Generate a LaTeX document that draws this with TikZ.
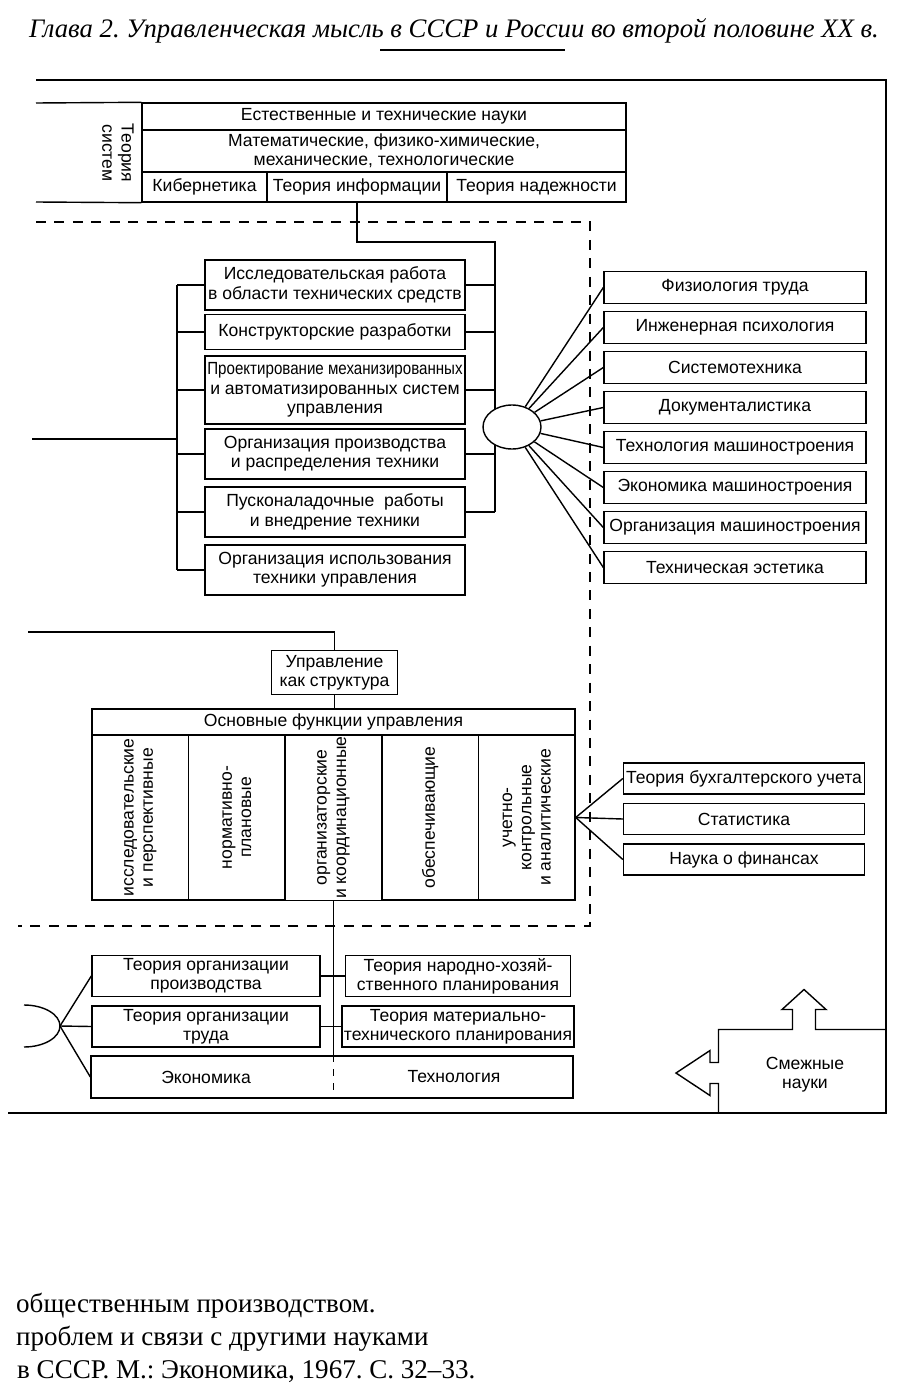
\documentclass[tikz,border=0pt]{standalone}
\usepackage{fontspec}
\setmainfont{Liberation Serif}
\setsansfont{Liberation Sans}
\usetikzlibrary{shapes.geometric}
\frenchspacing

\begin{document}
\begin{tikzpicture}[x=0.02cm, y=-0.02cm,
    box/.style={draw, line width=0.8pt, font=\sffamily\fontsize{10}{11}\selectfont, align=center, inner sep=1pt},
    rbox/.style={box, minimum width=5.24cm, minimum height=0.64cm},
    mbox/.style={box, minimum width=5.2cm},
    lbox/.style={box, minimum width=4.56cm, minimum height=0.82cm},
    pbox/.style={box, minimum width=4.5cm, minimum height=0.82cm},
    fcol/.style={box, rotate=90, minimum width=3.3cm, minimum height=1.932cm},
    dline/.style={line width=1.2pt, dash pattern=on 5.7pt off 4.8pt},
    link/.style={line width=0.8pt},
    page/.style={anchor=base west, font=\fontsize{15.4}{18}\selectfont}]

    \useasboundingbox (0,0) rectangle (912,1392);

    % Заголовок страницы
    \node[font=\itshape\fontsize{15.2}{18}\selectfont] (title) at (454,31)
        {Глава 2. Управленческая мысль в СССР и России во второй половине XX в.};
    \draw[link] (380,50) -- (565,50);

    % Рамка
    \draw[line width=1.4pt] (36,80) -- (886,80) -- (886,1113) -- (8,1113);

    % Верхний блок
    \node[box, minimum width=9.68cm, minimum height=0.54cm] (nat) at (384,116.5) {Естественные и технические науки};
    \node[box, minimum width=9.68cm, minimum height=0.84cm] (math) at (384,151)
        {Математические, физико-химические,\\механические, технологические};
    \node[box, minimum width=2.5cm, minimum height=0.6cm] (kib) at (204.5,187) {Кибернетика};
    \node[box, minimum width=3.6cm, minimum height=0.6cm] (inf) at (357,187) {Теория информации};
    \node[box, minimum width=3.58cm, minimum height=0.6cm] (rel) at (536.5,187) {Теория надежности};
    \node[font=\sffamily\fontsize{10}{11}\selectfont, align=center, rotate=-90] (sys) at (118,153) {Теория\\систем};
    \coordinate (ltop) at (36,103);
    \coordinate (lbot) at (36,202);
    \draw[link] (ltop) -- (nat.north west);
    \draw[link] (lbot) -- (kib.south west);

    % Граница (пунктир)
    \draw[dline] (36,222) -- (590,222) -- (590,926) -- (18,926);

    % Технические средства
    \node[mbox, minimum height=1.0cm] (m1) at (335,285) {Исследовательская работа\\в области технических средств};
    \node[mbox, minimum height=0.7cm] (m2) at (335,332) {Конструкторские разработки};
    \node[mbox, minimum height=1.36cm] (m3) at (335,390)
        {\scalebox{0.86}[1]{Проектирование механизированных}\\и автоматизированных систем\\управления};
    \node[mbox, minimum height=1.0cm] (m4) at (335,454) {Организация производства\\и распределения техники};
    \node[mbox, minimum height=1.0cm] (m5) at (335,512) {Пусконаладочные\ \ работы\\и внедрение техники};
    \node[mbox, minimum height=1.0cm] (m6) at (335,570) {Организация использования\\техники управления};

    \coordinate (lin) at (32,439);
    \coordinate (lbr) at (177,439);
    \draw[link] (lin) -- (lbr);
    \draw[link] (lbr |- m1.west) -- (lbr |- m6.west);
    \foreach \i in {1,...,6}
        \draw[link] (m\i.west) -- (lbr |- m\i.west);

    \coordinate (rbr) at (495,242);
    \draw[link] (inf.south) |- (rbr) -- (rbr |- m5.east);
    \foreach \i in {1,...,5}
        \draw[link] (m\i.east) -- (rbr |- m\i.east);

    % Смежные дисциплины
    \node[draw, line width=0.8pt, fill=white, ellipse, minimum width=1.16cm, minimum height=0.88cm] (hub) at (512,427) {};
    \foreach \t [count=\i] in {Физиология труда, Инженерная психология, Системотехника,
            Документалистика, Технология машиностроения, Экономика машиностроения,
            Организация машиностроения, Техническая эстетика} {
        \node[rbox] (r\i) at (735,{247.5+40*\i}) {\t};
        \draw[link] (hub) -- (r\i.west);
    }

    % Функции управления
    \coordinate (lin2) at (28,632);
    \node[box, minimum width=2.52cm, minimum height=0.88cm] (ctrl) at (334.5,672.5) {Управление\\как структура};
    \draw[link] (lin2) -| (ctrl.north);
    \node[box, minimum width=9.66cm, minimum height=0.52cm] (fhead) at (333.5,722) {Основные функции управления};
    \draw[link] (ctrl.south) -- (ctrl.south |- fhead.north);
    \foreach \t [count=\i] in {{исследовательские\\и перспективные}, {нормативно-\\плановые},
            {организаторские\\и координационные}, {обеспечивающие},
            {учетно-\\контрольные\\и аналитические}}
        \node[fcol] (f\i) at ({92+96.6*(\i-0.5)},817.5) {\t};

    \foreach \t [count=\i] in {Теория бухгалтерского учета, Статистика, Наука о финансах} {
        \node[box, minimum width=4.82cm, minimum height=0.62cm] (u\i) at (744,{738+40.5*\i}) {\t};
        \draw[link] (f5.south) -- (u\i.west);
    }

    % Нижний блок
    \node[lbox] (op) at (206,976) {Теория организации\\производства};
    \node[lbox] (ol) at (206,1026.5) {Теория организации\\труда};
    \node[pbox] (np) at (458,976) {Теория народно-хозяй-\\ственного планирования};
    \node[pbox] (mp) at (458,1026.5) {Теория материально-\\технического планирования};
    \node[box, minimum width=9.64cm, minimum height=0.84cm] (base) at (332,1077) {};
    \node[font=\sffamily\fontsize{10}{11}\selectfont] (eco) at (206,1077) {Экономика};
    \node[font=\sffamily\fontsize{10}{11}\selectfont] (tech) at (454,1077) {Технология};
    \draw[link] (f3.west) -- (f3.west |- base.north);
    \draw[link, dash pattern=on 4pt off 4pt] (f3.west |- base.north) -- (f3.west |- base.south);
    \draw[link] (op.east) -- (np.west);
    \draw[link] (ol.east) -- (mp.west);

    \coordinate (tip) at (60,1026);
    \draw[link] (24,1005) arc[start angle=90, end angle=-90, x radius=0.72cm, y radius=0.42cm];
    \draw[link] (tip) -- (op.west);
    \draw[link] (tip) -- (ol.west);
    \draw[link] (tip) -- (base.west);

    % Смежные науки
    \draw[link] (718.5,1113) -- (718.5,1083.5) -- (710,1083.5) -- (710,1095.5) -- (676,1073)
        -- (710,1050.5) -- (710,1062.5) -- (718.5,1062.5) -- (718.5,1029.5) -- (792.5,1029.5)
        -- (792.5,1009.5) -- (782,1009.5) -- (804,989.5) -- (826,1009.5) -- (815.5,1009.5)
        -- (815.5,1029.5) -- (886,1029.5);
    \node[font=\sffamily\fontsize{10}{11}\selectfont, align=center] (adj) at (805,1075) {Смежные\\науки};

    % Текст страницы
    \node[page] (p1) at (10,1312) {общественным производством.};
    \node[page] (p2) at (10,1345) {проблем и связи с другими науками};
    \node[page] (p3) at (11,1378) {в СССР. М.: Экономика, 1967. С. 32--33.};
\end{tikzpicture}
\end{document}
